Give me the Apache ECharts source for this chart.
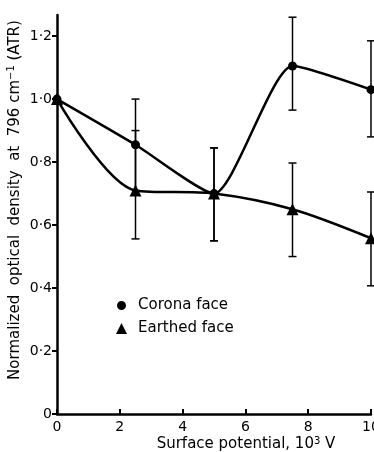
<!DOCTYPE html>
<html><head><meta charset="utf-8">
<script src="https://cdn.jsdelivr.net/npm/echarts@6/dist/echarts.min.js"></script>
<style>html,body{margin:0;padding:0;background:#fff}#c{width:374px;height:452px}</style>
</head><body><div id="c"></div>
<script>
const potential = [0, 2.5, 5, 7.5, 10];
const corona = [1.0, 0.855, 0.70, 1.105, 1.03];
const coronaLow = [1.0, 0.71, 0.55, 0.965, 0.88];
const coronaHigh = [1.0, 1.0, 0.845, 1.26, 1.185];
const earthed = [1.0, 0.71, 0.70, 0.65, 0.558];
const earthedLow = [1.0, 0.556, 0.55, 0.50, 0.407];
const earthedHigh = [1.0, 0.90, 0.845, 0.797, 0.705];
const yTicks = [0, 0.2, 0.4, 0.6, 0.8, 1.0, 1.2];
const xTicks = [0, 2, 4, 6, 8, 10];

const font = 'DejaVu Sans';
function errData(low, high) {
  return potential.map((x, i) => [x, low[i], high[i]]).filter(d => d[1] !== d[2]);
}
function renderErr(params, api) {
  const x = api.value(0);
  const lo = api.coord([x, api.value(1)]);
  const hi = api.coord([x, api.value(2)]);
  const w = 4;
  const st = { stroke: '#000', lineWidth: 1.5 };
  return { type: 'group', children: [
    { type: 'line', shape: { x1: lo[0], y1: lo[1], x2: hi[0], y2: hi[1] }, style: st },
    { type: 'line', shape: { x1: lo[0] - w, y1: lo[1], x2: lo[0] + w, y2: lo[1] }, style: st },
    { type: 'line', shape: { x1: hi[0] - w, y1: hi[1], x2: hi[0] + w, y2: hi[1] }, style: st }
  ]};
}
const chart = echarts.init(document.getElementById('c'));
chart.setOption({
  animation: false,
  textStyle: { fontFamily: font, color: '#000' },
  grid: { left: 57, right: 3, top: 15, bottom: 38, containLabel: false, outerBoundsMode: 'none' },
  legend: {
    orient: 'vertical', left: 110, top: 293, itemGap: 8, itemWidth: 11, itemHeight: 11,
    textStyle: { fontFamily: font, fontSize: 15, color: '#000', padding: [0, 0, 0, 6] },
    data: [{ name: 'Corona face', icon: 'circle', itemStyle: { borderWidth: 2, borderColor: '#fff' } }, { name: 'Earthed face', icon: 'triangle' }],
    selectedMode: false
  },
  xAxis: {
    type: 'value', min: 0, max: 10, interval: 2,
    name: 'Surface potential, 10{sup|3} V', nameLocation: 'middle', nameGap: 22, nameMoveOverlap: false,
    nameTextStyle: { fontFamily: font, fontSize: 15, color: '#000', padding: [0, 0, 0, 64], lineHeight: 16,
      rich: { sup: { fontSize: 10, verticalAlign: 'top', lineHeight: 16, fontFamily: font } } },
    axisLine: { lineStyle: { color: '#000', width: 2.5 } },
    axisTick: { inside: true, length: 5, lineStyle: { color: '#000', width: 2 } },
    axisLabel: { margin: 6, fontSize: 14, color: '#000', fontFamily: font, customValues: xTicks },
    splitLine: { show: false }
  },
  yAxis: {
    type: 'value', min: 0, max: 1.267,
    name: 'Normalized  optical  density  at  796 cm{sup|−1} (ATR)', nameLocation: 'middle', nameGap: 32, nameMoveOverlap: false,
    nameTextStyle: { fontFamily: font, fontSize: 15, color: '#000', padding: [0, 0, 0, 29],
      rich: { sup: { fontSize: 10, verticalAlign: 'top', padding: [0, 0, 9, 0], fontFamily: font } } },
    axisLine: { show: true, lineStyle: { color: '#000', width: 2.5 } },
    axisTick: { show: true, inside: false, length: 5, customValues: yTicks, lineStyle: { color: '#000', width: 2 } },
    axisLabel: { margin: 5, fontSize: 14, color: '#000', fontFamily: font, customValues: yTicks,
      formatter: v => v === 0 ? '0' : v.toFixed(1).replace('.', '·') },
    splitLine: { show: false }
  },
  series: [
    { name: 'Corona face', type: 'line', data: potential.map((x, i) => [x, corona[i]]), smooth: 0.2,
      symbol: 'circle', symbolSize: 9, lineStyle: { color: '#000', width: 2.5 }, itemStyle: { color: '#000' }, z: 3 },
    { name: 'Earthed face', type: 'line', data: potential.map((x, i) => [x, earthed[i]]), smooth: 0.3,
      symbol: 'triangle', symbolSize: 12, lineStyle: { color: '#000', width: 2.5 }, itemStyle: { color: '#000' }, z: 3 },
    { type: 'custom', renderItem: renderErr, data: errData(coronaLow, coronaHigh), z: 2 },
    { type: 'custom', renderItem: renderErr, data: errData(earthedLow, earthedHigh), z: 2 }
  ]
});
</script></body></html>
